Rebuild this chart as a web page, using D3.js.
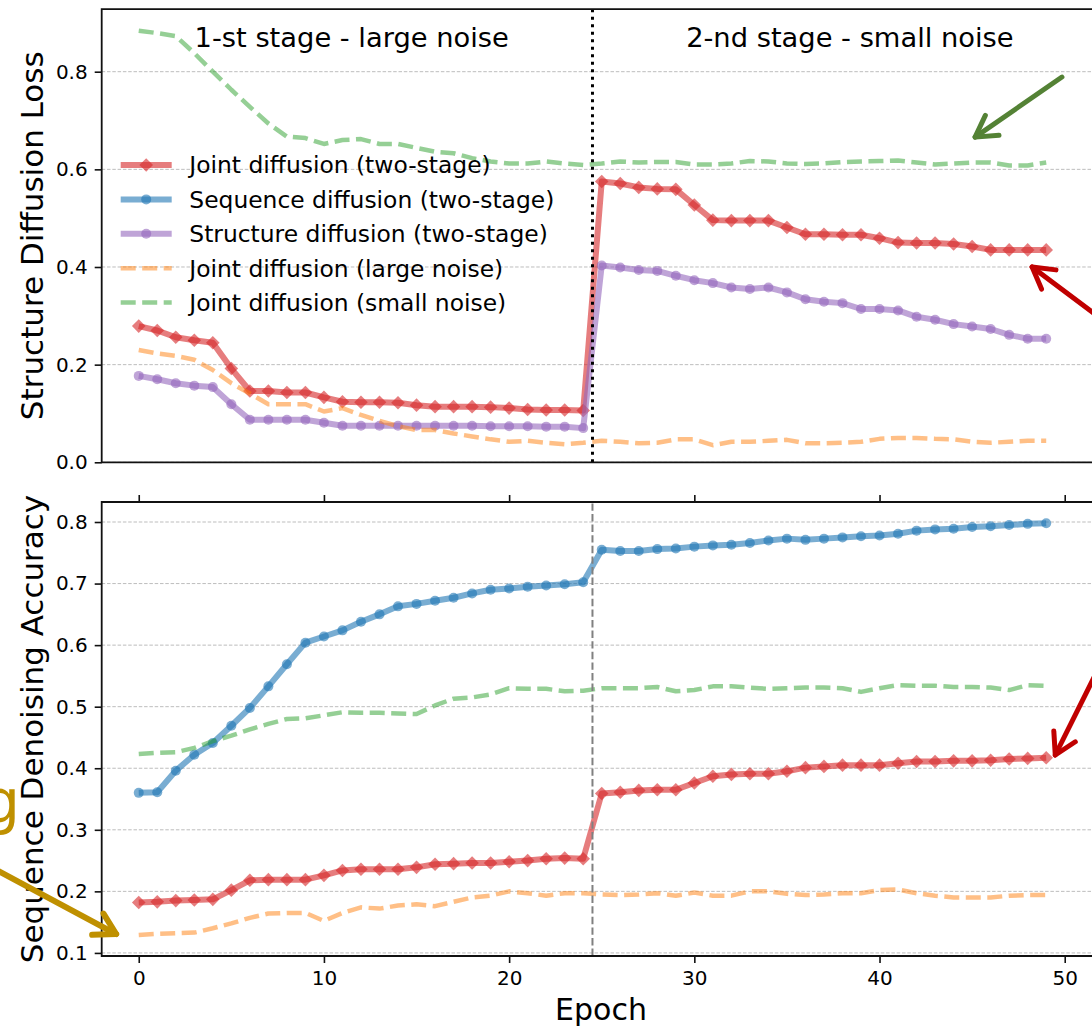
<!DOCTYPE html>
<html lang="en">
<head>
<meta charset="UTF-8">
<script src="https://d3js.org/d3.v7.min.js"></script>
<title>two-stage diffusion</title>
<style>
  body { margin: 0; background: #fff; }
  text { font-family: "DejaVu Sans", sans-serif; }
</style>
</head>
<body>
<script>
// epochs on the x axis
const epochs = [0,1,2,3,4,5,6,7,8,9,10,11,12,13,14,15,16,17,18,19,20,21,22,23,24,
                25,26,27,28,29,30,31,32,33,34,35,36,37,38,39,40,41,42,43,44,45,46,47,48,49];

// top panel: structure diffusion loss
const lossJoint2 = [0.279,0.270,0.256,0.250,0.245,0.192,0.146,0.146,0.143,0.143,0.133,0.124,0.123,0.123,0.122,0.117,0.114,0.114,0.114,0.113,0.111,0.108,0.107,0.107,0.106,
                    0.575,0.571,0.563,0.560,0.559,0.527,0.496,0.495,0.495,0.495,0.481,0.467,0.467,0.466,0.466,0.459,0.450,0.449,0.449,0.447,0.442,0.435,0.435,0.435,0.435];
const lossStruct2 = [0.177,0.170,0.162,0.157,0.154,0.119,0.087,0.087,0.087,0.087,0.081,0.075,0.075,0.075,0.075,0.075,0.075,0.075,0.075,0.074,0.074,0.074,0.073,0.073,0.070,
                     0.403,0.399,0.394,0.392,0.382,0.373,0.367,0.358,0.355,0.358,0.348,0.334,0.329,0.326,0.314,0.314,0.311,0.298,0.292,0.283,0.278,0.273,0.261,0.253,0.253];
const lossLarge = [0.230,0.223,0.218,0.210,0.189,0.162,0.141,0.119,0.119,0.119,0.104,0.111,0.097,0.085,0.074,0.066,0.066,0.059,0.053,0.047,0.042,0.044,0.040,0.037,0.040,
                   0.044,0.042,0.039,0.040,0.047,0.047,0.035,0.042,0.042,0.044,0.046,0.039,0.039,0.040,0.042,0.048,0.050,0.050,0.048,0.047,0.042,0.040,0.042,0.044,0.044];
const lossSmall = [0.884,0.879,0.873,0.838,0.800,0.763,0.728,0.694,0.667,0.664,0.652,0.660,0.662,0.652,0.652,0.644,0.636,0.633,0.623,0.616,0.612,0.612,0.616,0.612,0.609,
                   0.612,0.616,0.614,0.615,0.615,0.610,0.610,0.612,0.617,0.616,0.612,0.611,0.612,0.615,0.616,0.617,0.618,0.614,0.610,0.612,0.614,0.614,0.608,0.608,0.614];

// bottom panel: sequence denoising accuracy
const accJoint2 = [0.182,0.183,0.185,0.186,0.187,0.202,0.218,0.219,0.219,0.219,0.226,0.234,0.236,0.236,0.236,0.239,0.244,0.245,0.246,0.246,0.248,0.250,0.253,0.254,0.253,
                   0.359,0.361,0.364,0.365,0.365,0.376,0.387,0.390,0.391,0.391,0.395,0.401,0.403,0.405,0.405,0.405,0.408,0.411,0.411,0.412,0.412,0.413,0.415,0.416,0.417];
const accSeq2 = [0.360,0.361,0.396,0.422,0.441,0.469,0.498,0.533,0.569,0.604,0.614,0.624,0.638,0.650,0.663,0.667,0.672,0.677,0.684,0.690,0.692,0.695,0.697,0.699,0.702,
                 0.755,0.753,0.753,0.756,0.757,0.760,0.762,0.763,0.766,0.770,0.773,0.771,0.773,0.775,0.777,0.778,0.781,0.786,0.788,0.789,0.792,0.793,0.795,0.797,0.798];
const accLarge = [0.129,0.131,0.132,0.133,0.140,0.148,0.157,0.164,0.165,0.165,0.152,0.165,0.174,0.172,0.177,0.179,0.176,0.183,0.190,0.193,0.200,0.197,0.193,0.197,0.197,
                  0.195,0.194,0.195,0.197,0.193,0.198,0.193,0.193,0.200,0.200,0.196,0.194,0.195,0.197,0.197,0.202,0.203,0.197,0.193,0.190,0.190,0.190,0.193,0.194,0.194];
const accSmall = [0.423,0.425,0.426,0.433,0.444,0.453,0.463,0.472,0.480,0.481,0.486,0.491,0.490,0.490,0.489,0.488,0.502,0.513,0.515,0.520,0.530,0.529,0.529,0.525,0.526,
                  0.530,0.530,0.530,0.532,0.525,0.527,0.533,0.533,0.531,0.529,0.530,0.531,0.531,0.530,0.524,0.530,0.535,0.534,0.534,0.532,0.532,0.531,0.527,0.535,0.534];

const lossTicks = [0.0, 0.2, 0.4, 0.6, 0.8];
const accTicks = [0.1, 0.2, 0.3, 0.4, 0.5, 0.6, 0.7, 0.8];
const epochTicks = [0, 10, 20, 30, 40, 50];
const stageSplit = 24.5;

const legendNames = ["Joint diffusion (two-stage)", "Sequence diffusion (two-stage)", "Structure diffusion (two-stage)",
                     "Joint diffusion (large noise)", "Joint diffusion (small noise)"];

const width = 1092, height = 1026;
const C = {red: "#d62728", blue: "#1f77b4", purple: "#9467bd", orange: "#ff7f0e", green: "#2ca02c"};

const x = d3.scaleLinear().domain([-2, 51.5]).range([101.7, 1092.5]);
const yLoss = d3.scaleLinear().domain([0, 0.928]).range([462.3, 9.2]);
const yAcc = d3.scaleLinear().domain([0.095, 0.8325]).range([956, 502]);

const svg = d3.select("body").append("svg")
    .attr("width", width).attr("height", height);
svg.append("rect").attr("width", width).attr("height", height).attr("fill", "#fff");

const defs = svg.append("defs");
function clip(id, y) {
    defs.append("clipPath").attr("id", id).append("rect")
        .attr("x", x.range()[0]).attr("y", y.range()[1])
        .attr("width", x.range()[1] - x.range()[0])
        .attr("height", y.range()[0] - y.range()[1]);
}
clip("clipTop", yLoss);
clip("clipBot", yAcc);

const diamond = r => `M0,${-r}L${r},0L0,${r}L${-r},0Z`;

// style for each series
const styles = {
    joint:  {color: C.red, marker: "D", dash: null},
    seq:    {color: C.blue, marker: "o", dash: null},
    struct: {color: C.purple, marker: "o", dash: null},
    large:  {color: C.orange, marker: null, dash: "15,6.5"},
    small:  {color: C.green, marker: null, dash: "15,6.5"}
};

function drawSeries(g, y, values, st) {
    const line = d3.line().x((d, i) => x(epochs[i])).y(d => y(d));
    g.append("path").datum(values)
        .attr("d", line)
        .attr("fill", "none")
        .attr("stroke", st.color)
        .attr("stroke-opacity", st.dash ? 0.5 : 0.6)
        .attr("stroke-width", st.dash ? 4.5 : 6)
        .attr("stroke-linejoin", "round")
        .attr("stroke-dasharray", st.dash);
    if (st.marker) drawMarkers(g, values.map((v, i) => [x(epochs[i]), y(v)]), st);
}

function drawMarkers(g, pts, st) {
    g.selectAll(null).data(pts).enter().append("path")
        .attr("transform", d => `translate(${d[0]},${d[1]})`)
        .attr("d", st.marker === "D" ? diamond(6.8) : d3.symbol(d3.symbolCircle, Math.PI * 5 * 5)())
        .attr("fill", st.color).attr("fill-opacity", 0.6);
}

function grid(y, ticks) {
    svg.append("g").selectAll("line").data(ticks).enter().append("line")
        .attr("x1", x.range()[0]).attr("x2", x.range()[1])
        .attr("y1", d => y(d)).attr("y2", d => y(d))
        .attr("stroke", "#bdbdbd").attr("stroke-width", 1).attr("stroke-dasharray", "3.5,1.8");
}

function spines(y) {
    const [x0, x1] = x.range(), [yb, yt] = y.range();
    svg.append("path")
        .attr("d", `M${x1},${yt}H${x0}V${yb}H${x1}`)
        .attr("fill", "none").attr("stroke", "#111").attr("stroke-width", 1.8);
}

function styleAxis(g) {
    g.select(".domain").remove();
    g.selectAll(".tick line").attr("stroke", "#111").attr("stroke-width", 1.6);
    g.selectAll(".tick text").attr("font-size", 20).attr("fill", "#000")
        .attr("font-family", "DejaVu Sans");
}

// ---------- top panel ----------
grid(yLoss, lossTicks);
const gTop = svg.append("g").attr("clip-path", "url(#clipTop)");
drawSeries(gTop, yLoss, lossJoint2, styles.joint);
drawSeries(gTop, yLoss, lossStruct2, styles.struct);
drawSeries(gTop, yLoss, lossLarge, styles.large);
drawSeries(gTop, yLoss, lossSmall, styles.small);

gTop.append("line")
    .attr("x1", x(stageSplit)).attr("x2", x(stageSplit))
    .attr("y1", yLoss.range()[0]).attr("y2", yLoss.range()[1])
    .attr("stroke", "#000").attr("stroke-width", 3).attr("stroke-dasharray", "3,4.5");

svg.append("g").attr("transform", `translate(${x.range()[0]},0)`)
    .call(d3.axisLeft(yLoss).tickValues(lossTicks).tickSize(7).tickPadding(7).tickFormat(d3.format(".1f")))
    .call(styleAxis);
spines(yLoss);

svg.append("text").attr("x", x(11.5)).attr("y", 47).attr("text-anchor", "middle")
    .attr("font-size", 27.3).text("1-st stage - large noise");
svg.append("text").attr("x", x(38.4)).attr("y", 47).attr("text-anchor", "middle")
    .attr("font-size", 27.3).text("2-nd stage - small noise");

svg.append("text").attr("transform", `translate(43,${(yLoss.range()[0] + yLoss.range()[1]) / 2}) rotate(-90)`)
    .attr("text-anchor", "middle").attr("font-size", 31).text("Structure Diffusion Loss");

// legend
const legendKeys = ["joint", "seq", "struct", "large", "small"];
const lg = svg.append("g");
legendKeys.forEach((k, i) => {
    const st = styles[k], cy = 165 + i * 34.4;
    lg.append("line").attr("x1", 120.7).attr("x2", 171.7).attr("y1", cy).attr("y2", cy)
        .attr("stroke", st.color).attr("stroke-opacity", st.dash ? 0.5 : 0.6)
        .attr("stroke-width", st.dash ? 4.5 : 6).attr("stroke-dasharray", st.dash);
    if (st.marker) drawMarkers(lg, [[146.2, cy]], st);
    lg.append("text").attr("x", 189.3).attr("y", cy).attr("dy", "0.36em")
        .attr("font-size", 23.4).text(legendNames[i]);
});

// ---------- bottom panel ----------
grid(yAcc, accTicks);
const gBot = svg.append("g").attr("clip-path", "url(#clipBot)");
drawSeries(gBot, yAcc, accJoint2, styles.joint);
drawSeries(gBot, yAcc, accSeq2, styles.seq);
drawSeries(gBot, yAcc, accLarge, styles.large);
drawSeries(gBot, yAcc, accSmall, styles.small);

gBot.append("line")
    .attr("x1", x(stageSplit)).attr("x2", x(stageSplit))
    .attr("y1", yAcc.range()[0]).attr("y2", yAcc.range()[1])
    .attr("stroke", "#808080").attr("stroke-width", 2).attr("stroke-dasharray", "7.4,3.2");

svg.append("g").attr("transform", `translate(${x.range()[0]},0)`)
    .call(d3.axisLeft(yAcc).tickValues(accTicks).tickSize(7).tickPadding(7).tickFormat(d3.format(".1f")))
    .call(styleAxis);
svg.append("g").attr("transform", `translate(0,${yAcc.range()[0]})`)
    .call(d3.axisBottom(x).tickValues(epochTicks).tickSize(7).tickPadding(8).tickFormat(d3.format("d")))
    .call(styleAxis);
svg.append("g").attr("transform", `translate(0,${yAcc.range()[1]})`)
    .call(d3.axisTop(x).tickValues(epochTicks).tickSize(7).tickFormat(""))
    .call(styleAxis);
spines(yAcc);

svg.append("text").attr("transform", `translate(43,${(yAcc.range()[0] + yAcc.range()[1]) / 2}) rotate(-90)`)
    .attr("text-anchor", "middle").attr("font-size", 31).text("Sequence Denoising Accuracy");
svg.append("text").attr("x", 601).attr("y", 1020).attr("text-anchor", "middle")
    .attr("font-size", 30).text("Epoch");

// ---------- annotation arrows (data coords: [epoch, value]) ----------
function arrow(y, tail, tip, color, w) {
    const p0 = [x(tail[0]), y(tail[1])], p1 = [x(tip[0]), y(tip[1])];
    const ang = Math.atan2(p0[1] - p1[1], p0[0] - p1[0]), len = 24, spread = Math.PI / 6;
    const b1 = [p1[0] + len * Math.cos(ang + spread), p1[1] + len * Math.sin(ang + spread)];
    const b2 = [p1[0] + len * Math.cos(ang - spread), p1[1] + len * Math.sin(ang - spread)];
    const g = svg.append("g").attr("fill", "none").attr("stroke", color)
        .attr("stroke-width", w).attr("stroke-linecap", "round").attr("stroke-linejoin", "round");
    g.append("path").attr("d", `M${p0}L${p1}`);
    g.append("path").attr("d", `M${b1}L${p1}L${b2}`);
}
arrow(yLoss, [49.85, 0.789], [45.16, 0.666], "#548235", 5);
arrow(yLoss, [52.45, 0.280], [48.24, 0.400], "#c00000", 5);
arrow(yAcc, [52.45, 0.600], [49.49, 0.4215], "#c00000", 5);
arrow(yAcc, [-8.57, 0.249], [-1.22, 0.1307], "#bf9000", 6);

// partial annotation letter, cut by the left edge as in the source figure
svg.append("text").attr("x", 20).attr("y", 822).attr("text-anchor", "end")
    .attr("font-size", 60).attr("fill", "#bf9000").text("g");
</script>
</body>
</html>
